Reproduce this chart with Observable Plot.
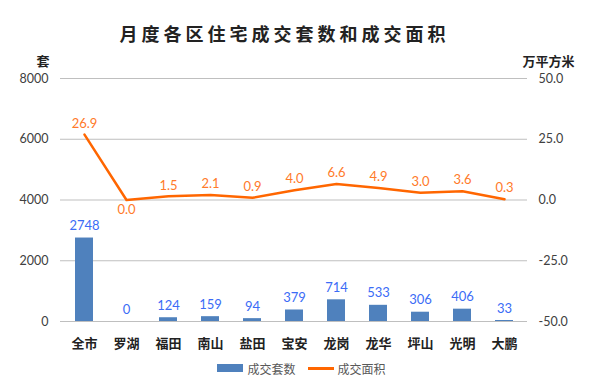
<!DOCTYPE html>
<html><head><meta charset="utf-8">
<script src="https://cdn.jsdelivr.net/npm/d3@7"></script>
<script src="https://cdn.jsdelivr.net/npm/@observablehq/plot@0.6"></script>
<style>
body{margin:0;background:#fff;width:591px;height:387px;overflow:hidden;font-family:"Noto Sans CJK SC",sans-serif;}
#title{height:45px;line-height:66px;text-align:center;font-size:18px;font-weight:bold;letter-spacing:4px;color:#222;padding-right:22px;box-sizing:border-box;font-family:"Noto Sans CJK SC",serif;}
#legend{display:flex;justify-content:center;align-items:center;height:22px;font-size:12px;color:#595959;margin-left:12px;margin-top:-8px}
.sw{display:inline-block;margin-right:4px}
</style></head>
<body>
<div id="title">月度各区住宅成交套数和成交面积</div>
<div id="chart"></div>
<div id="legend"><span class="sw" style="width:26px;height:8px;background:#4F81BD"></span><span>成交套数</span><span class="sw" style="width:26px;height:3px;background:#FF6600;margin-left:12px"></span><span>成交面积</span></div>
<script>
const districts = ["全市","罗湖","福田","南山","盐田","宝安","龙岗","龙华","坪山","光明","大鹏"];
const units = [2748,0,124,159,94,379,714,533,306,406,33];
const area = [26.9,0.0,1.5,2.1,0.9,4.0,6.6,4.9,3.0,3.6,0.3];
const leftTicks = [0,2000,4000,6000,8000];
const rightTicks = [-50,-25,0,25,50];

const toLeft = v => (v + 50) / 100 * 8000;
const data = districts.map((d,i)=>({d, u:units[i], a:area[i], ay:toLeft(area[i])}));
const numFont = "Lato, 'Liberation Sans', sans-serif";

const chart = Plot.plot({
  width:591, height:320,
  marginLeft:60, marginRight:64, marginTop:33, marginBottom:44,
  style:{fontFamily:numFont, fontSize:"12.5px", color:"#404040"},
  x:{domain:districts, paddingInner:0.58, paddingOuter:0.29, label:null},
  y:{domain:[0,8000], label:null},
  marks:[
    Plot.gridY(leftTicks,{stroke:"#BFBFBF", strokeOpacity:1}),
    Plot.axisY({ticks:leftTicks, tickSize:0, tickPadding:12, label:null, tickFormat:d=>String(d)}),
    Plot.axisY({anchor:"right", ticks:rightTicks.map(toLeft), tickSize:0, tickPadding:11, label:null,
      tickFormat:d=>((d/8000)*100-50).toFixed(1)}),
    Plot.axisX({tickSize:0, tickPadding:17, label:null, fontWeight:"bold", fontSize:13,
      fontFamily:"'Noto Sans CJK SC', sans-serif", fill:"#222"}),
    Plot.barY(data,{x:"d", y:"u", fill:"#4F81BD"}),
    Plot.text(data,{x:"d", y:"u", text:d=>String(d.u), dy:-12, fill:"#3B6CF6", fontSize:13}),
    Plot.line(data,{x:"d", y:"ay", stroke:"#FF6600", strokeWidth:2.5, curve:"linear"}),
    Plot.text(data,{x:"d", y:"ay", text:d=>d.a.toFixed(1), fill:"#FF7A2A", fontSize:13,
      filter:d=>d.a!==0, dy:-11}),
    Plot.text(data,{x:"d", y:"ay", text:d=>d.a.toFixed(1), fill:"#FF7A2A", fontSize:13,
      filter:d=>d.a===0, dy:10}),
    Plot.text(["套"],{frameAnchor:"top-left", dx:-24, dy:-22, fontWeight:"bold", fontSize:13,
      fontFamily:"'Noto Sans CJK SC', sans-serif", fill:"#222"}),
    Plot.text(["万平方米"],{frameAnchor:"top-right", dx:47, dy:-22, fontWeight:"bold", fontSize:13,
      fontFamily:"'Noto Sans CJK SC', sans-serif", fill:"#222"})
  ]
});
document.getElementById("chart").append(chart);
</script>
</body></html>
